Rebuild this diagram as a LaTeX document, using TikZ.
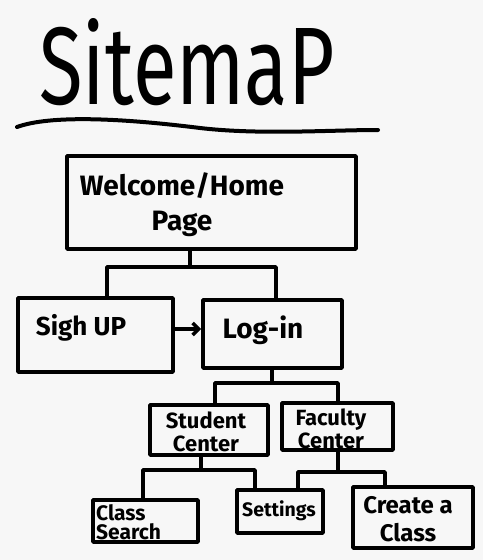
\documentclass[tikz,border=0pt]{standalone}
\usepackage{fontspec}
\setmainfont{Fira Sans}
\usetikzlibrary{arrows.meta}
\definecolor{paper}{RGB}{247,247,247}
\begin{document}
\begin{tikzpicture}[x=1pt,y=-1pt,
  pen/.style={line width=3.6pt, line cap=round, line join=round},
  box/.style={pen, draw, inner sep=0pt},
  bigtxt/.style={font=\bfseries\fontsize{28}{35}\selectfont, align=center, inner sep=0pt},
  midtxt/.style={font=\bfseries\fontsize{26}{28}\selectfont, align=center, inner sep=0pt},
  smalltxt/.style={font=\bfseries\fontsize{22}{23}\selectfont, align=center, inner sep=0pt},
]
% paper
\fill[paper] (0,0) rectangle (483,560);
\useasboundingbox (0,0) rectangle (483,560);

% heading and its underline
\node[inner sep=0pt] (title) at (187,62) {\resizebox{295pt}{86pt}{SitemaP}};
\draw[pen, line width=4pt] (17,127) .. controls (50,115) and (120,118) .. (200,128)
      .. controls (260,135) and (330,130) .. (378,130);

% pages
\node[box, minimum width=289pt, minimum height=93pt] (wel) at (211.5,202.5) {};
\node[bigtxt] (welT) at (182,205) {Welcome/Home\\Page};

\node[box, minimum width=155pt, minimum height=74pt] (signup) at (95.5,335) {};
\node[midtxt] (signupT) at (81,328) {Sigh UP};

\node[box, minimum width=139pt, minimum height=68pt] (login) at (272.5,334) {};
\node[midtxt, font=\bfseries\fontsize{28}{30}\selectfont] (loginT) at (263,330) {Log-in};

\node[box, minimum width=118pt, minimum height=50pt] (student) at (209,430) {};
\node[smalltxt] (studentT) at (206,432) {Student\\Center};

\node[box, minimum width=111pt, minimum height=47pt] (faculty) at (337.5,426.5) {};
\node[smalltxt] (facultyT) at (331,429) {Faculty\\Center};

\node[box, minimum width=105pt, minimum height=42pt] (search) at (145.5,521) {};
\node[smalltxt, font=\bfseries\fontsize{21}{19}\selectfont, align=left, anchor=west] (searchT) at (96,522) {Class\\Search};

\node[box, minimum width=86pt, minimum height=43pt] (settings) at (280,511.5) {};
\node[smalltxt, font=\bfseries\fontsize{19.5}{22}\selectfont] (settingsT) at (279,511) {Settings};

\node[box, minimum width=120pt, minimum height=61pt] (create) at (413,517.5) {};
\node[smalltxt, font=\bfseries\fontsize{24}{28}\selectfont] (createT) at (408,519) {Create a\\Class};

% tree connectors
\coordinate (s1) at (190,267);
\coordinate (b1l) at (107,267);
\coordinate (b1r) at (276,267);
\draw[pen] (s1 |- wel.south) -- (s1);
\draw[pen] (signup.north -| b1l) |- (b1r) -- (login.north -| b1r);

\coordinate (s2) at (272,383);
\coordinate (b2l) at (215,383);
\coordinate (b2r) at (338,383);
\draw[pen] (s2 |- login.south) -- (s2);
\draw[pen] (student.north -| b2l) |- (b2r) -- (faculty.north -| b2r);

\coordinate (s3) at (201,470);
\coordinate (b3l) at (143,470);
\coordinate (b3r) at (255,470);
\draw[pen] (s3 |- student.south) -- (s3);
\draw[pen] (search.north -| b3l) |- (b3r) -- (settings.north -| b3r);

\coordinate (s4) at (338,472);
\coordinate (b4l) at (298,472);
\coordinate (b4r) at (385,472);
\draw[pen] (s4 |- faculty.south) -- (s4);
\draw[pen] (settings.north -| b4l) |- (b4r) -- (create.north -| b4r);

% sign up leads on to log-in
\draw[pen, -{Straight Barb[length=6pt,width=12pt,line width=3.6pt]}]
  ([yshift=6pt]signup.east) -- ([yshift=6pt]signup.east -| login.west);
\end{tikzpicture}
\end{document}
